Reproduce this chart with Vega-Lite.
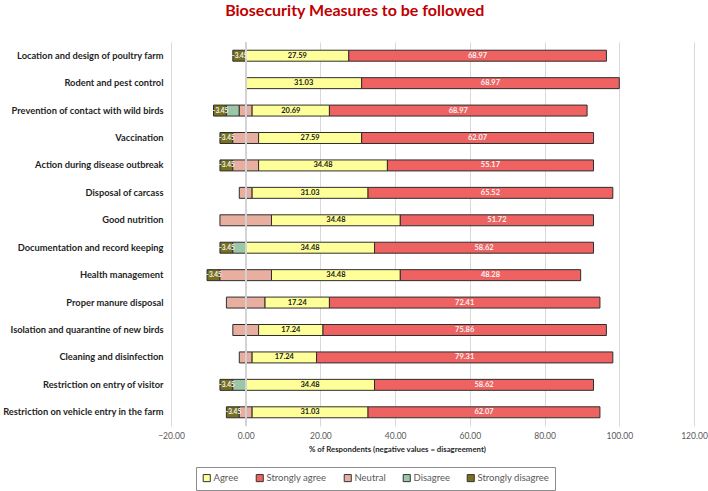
{
  "$schema": "https://vega.github.io/schema/vega-lite/v6.json",
  "width": 523,
  "height": 384,
  "padding": {"left": 2, "top": 2, "right": 0, "bottom": 2},
  "background": "white",
  "title": {
    "text": "Biosecurity Measures to be followed",
    "font": "Lato",
    "fontSize": 16,
    "fontWeight": "bold",
    "color": "#C00000",
    "anchor": "middle",
    "frame": "bounds",
    "offset": 23
  },
  "data": {
    "values": [
      {"measure": "Location and design of poultry farm", "response": "Strongly disagree", "value": -3.45},
      {"measure": "Location and design of poultry farm", "response": "Agree", "value": 27.59},
      {"measure": "Location and design of poultry farm", "response": "Strongly agree", "value": 68.97},

      {"measure": "Rodent and pest control", "response": "Agree", "value": 31.03},
      {"measure": "Rodent and pest control", "response": "Strongly agree", "value": 68.97},

      {"measure": "Prevention of contact with wild birds", "response": "Strongly disagree", "value": -3.45},
      {"measure": "Prevention of contact with wild birds", "response": "Disagree", "value": -3.45},
      {"measure": "Prevention of contact with wild birds", "response": "Neutral", "value": -1.72},
      {"measure": "Prevention of contact with wild birds", "response": "Neutral", "value": 1.72},
      {"measure": "Prevention of contact with wild birds", "response": "Agree", "value": 20.69},
      {"measure": "Prevention of contact with wild birds", "response": "Strongly agree", "value": 68.97},

      {"measure": "Vaccination", "response": "Strongly disagree", "value": -3.45},
      {"measure": "Vaccination", "response": "Neutral", "value": -3.45},
      {"measure": "Vaccination", "response": "Neutral", "value": 3.45},
      {"measure": "Vaccination", "response": "Agree", "value": 27.59},
      {"measure": "Vaccination", "response": "Strongly agree", "value": 62.07},

      {"measure": "Action during disease outbreak", "response": "Strongly disagree", "value": -3.45},
      {"measure": "Action during disease outbreak", "response": "Neutral", "value": -3.45},
      {"measure": "Action during disease outbreak", "response": "Neutral", "value": 3.45},
      {"measure": "Action during disease outbreak", "response": "Agree", "value": 34.48},
      {"measure": "Action during disease outbreak", "response": "Strongly agree", "value": 55.17},

      {"measure": "Disposal of carcass", "response": "Neutral", "value": -1.72},
      {"measure": "Disposal of carcass", "response": "Neutral", "value": 1.72},
      {"measure": "Disposal of carcass", "response": "Agree", "value": 31.03},
      {"measure": "Disposal of carcass", "response": "Strongly agree", "value": 65.52},

      {"measure": "Good nutrition", "response": "Neutral", "value": -6.9},
      {"measure": "Good nutrition", "response": "Neutral", "value": 6.9},
      {"measure": "Good nutrition", "response": "Agree", "value": 34.48},
      {"measure": "Good nutrition", "response": "Strongly agree", "value": 51.72},

      {"measure": "Documentation and record keeping", "response": "Strongly disagree", "value": -3.45},
      {"measure": "Documentation and record keeping", "response": "Disagree", "value": -3.45},
      {"measure": "Documentation and record keeping", "response": "Agree", "value": 34.48},
      {"measure": "Documentation and record keeping", "response": "Strongly agree", "value": 58.62},

      {"measure": "Health management", "response": "Strongly disagree", "value": -3.45},
      {"measure": "Health management", "response": "Neutral", "value": -6.9},
      {"measure": "Health management", "response": "Neutral", "value": 6.9},
      {"measure": "Health management", "response": "Agree", "value": 34.48},
      {"measure": "Health management", "response": "Strongly agree", "value": 48.28},

      {"measure": "Proper manure disposal", "response": "Neutral", "value": -5.17},
      {"measure": "Proper manure disposal", "response": "Neutral", "value": 5.17},
      {"measure": "Proper manure disposal", "response": "Agree", "value": 17.24},
      {"measure": "Proper manure disposal", "response": "Strongly agree", "value": 72.41},

      {"measure": "Isolation and quarantine of new birds", "response": "Neutral", "value": -3.45},
      {"measure": "Isolation and quarantine of new birds", "response": "Neutral", "value": 3.45},
      {"measure": "Isolation and quarantine of new birds", "response": "Agree", "value": 17.24},
      {"measure": "Isolation and quarantine of new birds", "response": "Strongly agree", "value": 75.86},

      {"measure": "Cleaning and disinfection", "response": "Neutral", "value": -1.72},
      {"measure": "Cleaning and disinfection", "response": "Neutral", "value": 1.72},
      {"measure": "Cleaning and disinfection", "response": "Agree", "value": 17.24},
      {"measure": "Cleaning and disinfection", "response": "Strongly agree", "value": 79.31},

      {"measure": "Restriction on entry of visitor", "response": "Strongly disagree", "value": -3.45},
      {"measure": "Restriction on entry of visitor", "response": "Disagree", "value": -3.45},
      {"measure": "Restriction on entry of visitor", "response": "Agree", "value": 34.48},
      {"measure": "Restriction on entry of visitor", "response": "Strongly agree", "value": 58.62},

      {"measure": "Restriction on vehicle entry in the farm", "response": "Strongly disagree", "value": -3.45},
      {"measure": "Restriction on vehicle entry in the farm", "response": "Neutral", "value": -1.72},
      {"measure": "Restriction on vehicle entry in the farm", "response": "Neutral", "value": 1.72},
      {"measure": "Restriction on vehicle entry in the farm", "response": "Agree", "value": 31.03},
      {"measure": "Restriction on vehicle entry in the farm", "response": "Strongly agree", "value": 62.07}
    ]
  },
  "transform": [
    {"calculate": "indexof(['Neutral', 'Disagree', 'Strongly disagree', 'Agree', 'Strongly agree'], datum.response)", "as": "stackRank"}
  ],
  "encoding": {
    "y": {
      "field": "measure",
      "type": "nominal",
      "sort": null,
      "scale": {"paddingInner": 0.6, "paddingOuter": 0.3},
      "axis": {
        "title": null,
        "domain": false,
        "ticks": false,
        "grid": false,
        "labelFont": "Lato",
        "labelFontWeight": "bold",
        "labelFontSize": 9.3,
        "labelColor": "#1f1f1f",
        "labelPadding": 8,
        "labelLimit": 300
      }
    }
  },
  "layer": [
    {
      "mark": {"type": "bar", "stroke": "#2e2e2e", "strokeWidth": 1},
      "encoding": {
        "x": {
          "field": "value",
          "type": "quantitative",
          "stack": "zero",
          "scale": {"domain": [-20, 120], "nice": false},
          "axis": {
            "values": [-20, 0, 20, 40, 60, 80, 100, 120],
            "format": ".2f",
            "labelFlush": false,
            "title": "% of Respondents (negative values = disagreement)",
            "titleFont": "Lato",
            "titleFontSize": 7.8,
            "titleFontWeight": "bold",
            "titleColor": "#262626",
            "titleAnchor": "middle",
            "titleAlign": "center",
            "titleX": 226,
            "titlePadding": 6,
            "labelFont": "Lato",
            "labelFontSize": 8.5,
            "labelColor": "#595959",
            "labelPadding": 5,
            "domain": false,
            "ticks": false,
            "grid": true,
            "gridColor": "#D9D9D9",
            "gridWidth": 1
          }
        },
        "color": {
          "field": "response",
          "type": "nominal",
          "scale": {
            "domain": ["Agree", "Strongly agree", "Neutral", "Disagree", "Strongly disagree"],
            "range": ["#FFFF99", "#EE6262", "#E8AEA0", "#9CC7A7", "#77701F"]
          },
          "legend": {
            "title": null,
            "orient": "none",
            "direction": "horizontal",
            "legendX": 25,
            "legendY": 425,
            "strokeColor": "#8c8c8c",
            "fillColor": "white",
            "padding": 6,
            "offset": 0,
            "symbolType": "square",
            "symbolSize": 50,
            "symbolStrokeColor": "#333333",
            "symbolStrokeWidth": 1,
            "symbolOpacity": 1,
            "labelFont": "Lato",
            "labelFontSize": 9.5,
            "labelColor": "#595959",
            "labelOffset": 2,
            "columnPadding": 15
          }
        },
        "order": {"field": "stackRank", "type": "quantitative"}
      }
    },
    {
      "mark": {"type": "rule", "color": "#D3D3D3", "strokeWidth": 1},
      "encoding": {"x": {"datum": 0, "type": "quantitative"}, "y": null}
    },
    {
      "mark": {"type": "text", "font": "Lato", "fontWeight": "bold", "baseline": "middle", "align": "center"},
      "encoding": {
        "x": {"field": "value", "type": "quantitative", "stack": "zero", "bandPosition": 0.5},
        "order": {"field": "stackRank", "type": "quantitative"},
        "text": {
          "condition": {"test": "datum.response === 'Neutral' || datum.response === 'Disagree'", "value": ""},
          "field": "value",
          "type": "quantitative",
          "format": ".2f"
        },
        "size": {
          "condition": {"test": "datum.response === 'Strongly disagree'", "value": 6.5},
          "value": 7.5
        },
        "color": {
          "condition": {"test": "datum.response === 'Agree'", "value": "#1a1a1a"},
          "value": "#f4f4f4"
        }
      }
    }
  ],
  "config": {
    "view": {"stroke": null},
    "axis": {"labelFont": "Lato", "titleFont": "Lato"}
  }
}
